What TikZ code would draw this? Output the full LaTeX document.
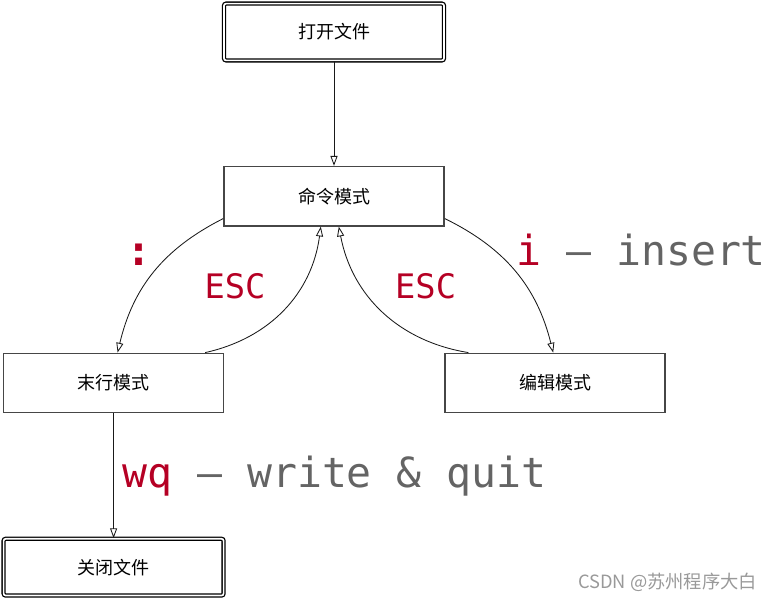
\documentclass[tikz,border=0pt]{standalone}
\usepackage{fontspec}
\setmainfont{Noto Sans CJK SC}
\setmonofont{DejaVu Sans Mono}
\usepackage{tikz}
\usetikzlibrary{arrows.meta, positioning}
\definecolor{vimred}{RGB}{181,0,36}
\definecolor{vimgray}{RGB}{100,100,100}
\definecolor{boxgray}{RGB}{70,70,70}

\begin{document}
\begin{tikzpicture}[
    every node/.style={font=\fontsize{12.8}{15}\selectfont},
    mode/.style={rectangle, draw=boxgray, line width=1.1pt, minimum width=5.5cm, minimum height=1.48cm, align=center},
    file/.style={rectangle, draw=black, line width=0.9pt, double, double distance=1.2pt, rounded corners=1.5pt, minimum width=5.5cm, minimum height=1.42cm, align=center},
    arrow/.style={-{Triangle[open, length=7pt, width=5pt]}, line width=0.6pt, black!90},
    key/.style={inner sep=0pt, font=\ttfamily\fontsize{29.5}{32}\selectfont, text=vimgray},
    esc/.style={inner sep=0pt, font=\ttfamily\fontsize{24}{28}\selectfont, text=vimred}
]

\useasboundingbox (0,0) rectangle (19.35,-15);

\node[file] (open) at (8.35,-0.8) {打开文件};
\node[mode, below=2.62cm of open] (cmd) {命令模式};
\node[mode, below=3.15cm of cmd, xshift=-5.51cm] (last) {末行模式};
\node[mode, below=3.15cm of cmd, xshift=5.53cm] (edit) {编辑模式};
\node[file, below=3.12cm of last] (close) {关闭文件};

\node[key, text=vimred, font=\ttfamily\bfseries\fontsize{29.5}{32}\selectfont] (colon) at (3.475,-6.375) {:};
\node[esc, anchor=base] (escl) at (5.875,-7.45) {ESC};
\node[esc, anchor=base] (escr) at (10.64,-7.45) {ESC};
\node[key, anchor=base west] (ins) at (12.9,-6.625) {\textcolor{vimred}{i} – insert};
\node[key, anchor=base west] (wq) at (3.05,-12.175) {\textcolor{vimred}{wq} – write \& quit};
\node[anchor=base east, text=black!40, font=\fontsize{13}{15}\selectfont] (mark) at (19.05,-14.7) {CSDN @苏州程序大白};

\draw[arrow] (open) -- (cmd);
\draw[arrow] ([yshift=0.2cm]cmd.south west) to[bend right=25] ([xshift=0.1cm]last.north);
\draw[arrow] ([xshift=-0.48cm]last.north east) to[bend right=35] ([xshift=-0.33cm]cmd.south);
\draw[arrow] ([xshift=0.6cm]edit.north west) to[bend left=35] ([xshift=0.12cm]cmd.south);
\draw[arrow] ([yshift=0.2cm]cmd.south east) to[bend left=25] ([xshift=-0.05cm]edit.north);
\draw[arrow] (last) -- (close);

\end{tikzpicture}
\end{document}
